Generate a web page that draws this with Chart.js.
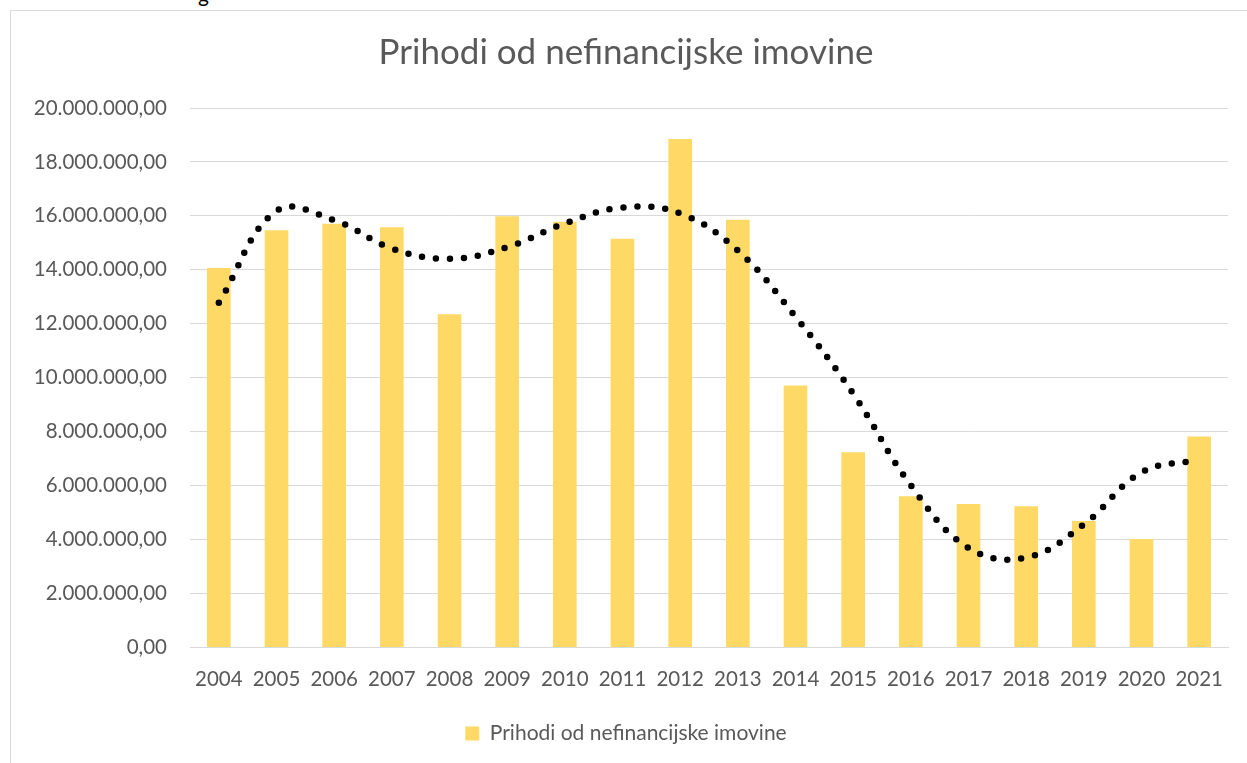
<!DOCTYPE html>
<html>
<head>
<meta charset="utf-8">
<script src="https://cdn.jsdelivr.net/npm/chart.js@4.4.1/dist/chart.umd.min.js"></script>
<style>
  html, body { margin: 0; padding: 0; background: #ffffff; overflow: hidden; }
  body { width: 1247px; height: 763px; position: relative; }
  #frame { position: absolute; left: 10px; top: 10px; width: 1300px; height: 800px;
           border-left: 1px solid #D9D9D9; border-top: 1px solid #D9D9D9; box-sizing: border-box; }
  #wrap { position: absolute; left: 0; top: 0; width: 1247px; height: 763px; }
  #frag { position: absolute; left: 198px; top: -17px; font: 21px Lato, sans-serif; line-height: 21px; color: #000; }
</style>
</head>
<body>
<div id="frag">g</div>
<div id="frame"></div>
<div id="wrap"><canvas id="c" width="1247" height="763"></canvas></div>
<script>
const chartTitle = "Prihodi od nefinancijske imovine";
const seriesName = "Prihodi od nefinancijske imovine";
const years = ["2004","2005","2006","2007","2008","2009","2010","2011","2012","2013","2014","2015","2016","2017","2018","2019","2020","2021"];
const revenue = [14070000, 15470000, 15710000, 15580000, 12350000, 15990000, 15780000, 15150000, 18850000, 15860000, 9710000, 7240000, 5600000, 5320000, 5230000, 4690000, 4020000, 7820000];
const trend = [12780000, 16180000, 15840000, 14790000, 14410000, 14840000, 15720000, 16310000, 16090000, 14710000, 12260000, 9410000, 6010000, 3690000, 3330000, 4560000, 6490000, 6960000];
const yTicks = [0, 2000000, 4000000, 6000000, 8000000, 10000000, 12000000, 14000000, 16000000, 18000000, 20000000];

const FONT = "Lato, 'Open Sans', sans-serif";
const TXT = "#595959";

function fmt(v) {
  const s = Math.round(v).toString().replace(/\B(?=(\d{3})+(?!\d))/g, ".");
  return s + ",00";
}

new Chart(document.getElementById("c"), {
  type: "bar",
  data: {
    labels: years,
    datasets: [
      {
        type: "line",
        label: "trend",
        data: trend,
        borderColor: "#000000",
        borderWidth: 6.5,
        borderDash: [0, 14],
        borderCapStyle: "round",
        pointRadius: 0,
        tension: 0.4,
        fill: false,
        order: 0
      },
      {
        type: "bar",
        label: seriesName,
        data: revenue,
        backgroundColor: "#FFD966",
        borderWidth: 0,
        barPercentage: 0.41,
        categoryPercentage: 1.0,
        order: 1
      }
    ]
  },
  options: {
    responsive: false,
    animation: false,
    devicePixelRatio: 1,
    layout: { padding: { left: 24, right: 19, top: 10, bottom: 9 } },
    plugins: {
      title: {
        display: true,
        text: chartTitle,
        color: TXT,
        font: { family: FONT, size: 35, weight: "normal" },
        padding: { top: 22, bottom: 34 }
      },
      legend: {
        display: true,
        position: "bottom",
        labels: {
          color: TXT,
          font: { family: FONT, size: 21 },
          boxWidth: 14,
          boxHeight: 14,
          padding: 11,
          filter: (item) => item.text !== "trend"
        }
      },
      tooltip: { enabled: false }
    },
    scales: {
      x: {
        grid: { display: false, drawTicks: false },
        border: { display: true, color: "#D9D9D9", width: 1 },
        ticks: { color: TXT, font: { family: FONT, size: 20.5 }, padding: 20, maxRotation: 0 }
      },
      y: {
        min: 0,
        max: 20000000,
        afterFit: (s) => { s.width = 166; },
        afterBuildTicks: (s) => { s.ticks = yTicks.map(v => ({ value: v })); },
        grid: { color: "#D9D9D9", lineWidth: 1, drawTicks: false },
        border: { display: false },
        ticks: { color: TXT, font: { family: FONT, size: 20.5 }, padding: 23, callback: (v) => fmt(v) }
      }
    }
  }
});
</script>
</body>
</html>
